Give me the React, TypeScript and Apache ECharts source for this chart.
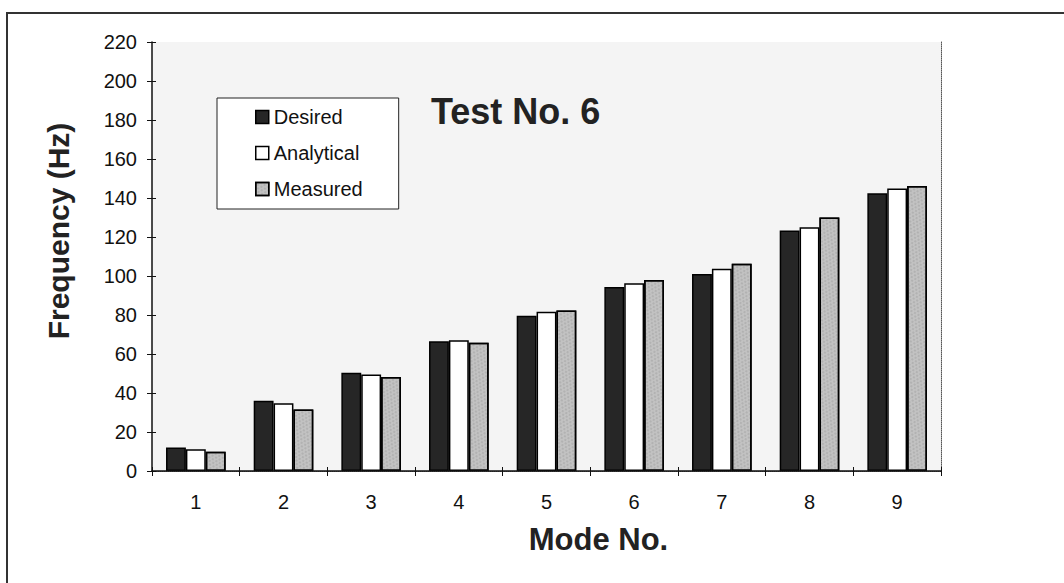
import React, { useEffect, useRef } from "react";
import * as echarts from "echarts";

// Mode numbers on the category axis
const modes = ["1", "2", "3", "4", "5", "6", "7", "8", "9"];

// Natural frequencies (Hz) per mode
const desired = [12, 36, 50.4, 66.6, 79.6, 94.3, 101, 123.3, 142.5];
const analytical = [11.1, 34.7, 49.5, 67, 81.7, 96.3, 103.7, 125, 144.9];
const measured = [9.9, 31.6, 48.2, 65.8, 82.3, 98, 106.3, 130, 146.2];

const seriesNames = ["Desired", "Analytical", "Measured"];

const FONT = '"Liberation Sans", Arial, Helvetica, sans-serif';

// speckled texture on the measured bars
const measuredDecal = {
  symbol: "rect",
  symbolSize: 0.6,
  color: "rgba(85,85,85,0.5)",
  dashArrayX: [
    [2, 2],
    [0, 2, 2, 0],
  ],
  dashArrayY: [2, 1],
  rotation: 0.5,
};

const styles = [
  { color: "#262626", borderColor: "#000", borderWidth: 1.5, decal: "none" },
  { color: "#ffffff", borderColor: "#000", borderWidth: 1.5, decal: "none" },
  { color: "#c2c2c2", borderColor: "#000", borderWidth: 1.5, decal: measuredDecal },
];

export default function App() {
  const ref = useRef<HTMLDivElement>(null);

  useEffect(() => {
    if (!ref.current) return;
    const chart = echarts.init(ref.current, undefined, { renderer: "svg" });

    const values = [desired, analytical, measured];

    chart.setOption({
      animation: false,
      backgroundColor: "#ffffff",
      textStyle: { fontFamily: FONT },
      grid: {
        left: 152,
        right: 123,
        top: 42,
        bottom: 112,
        show: true,
        backgroundColor: "#f4f4f4",
        borderWidth: 0,
      },
      legend: {
        orient: "vertical",
        left: 217,
        top: 98,
        padding: [9, 36, 10, 38],
        backgroundColor: "#ffffff",
        borderColor: "#222",
        borderWidth: 1,
        itemWidth: 13,
        itemHeight: 13,
        itemGap: 16,
        icon: "rect",
        textStyle: { fontFamily: FONT, fontSize: 20, color: "#111" },
        data: seriesNames.map((name, i) => ({ name, itemStyle: styles[i] })),
      },
      xAxis: [
        {
          type: "category",
          data: modes,
          position: "bottom",
          axisLine: { lineStyle: { color: "#111", width: 1.5 } },
          axisTick: { show: true, length: 5, lineStyle: { color: "#111" } },
          axisLabel: { fontFamily: FONT, fontSize: 20, color: "#111", margin: 21 },
          splitLine: { show: false },
          z: 5,
        },
        {
          // inward half of the crossing ticks
          type: "category",
          data: modes,
          position: "bottom",
          offset: 0,
          axisLine: { show: false },
          axisTick: { show: true, inside: true, length: 4, lineStyle: { color: "#111" } },
          axisLabel: { show: false },
          splitLine: { show: false },
        },
        {
          // dotted top frame
          type: "category",
          data: modes,
          position: "top",
          axisLine: { lineStyle: { color: "#555", width: 1, type: "dotted" } },
          axisTick: { show: false },
          axisLabel: { show: false },
        },
      ],
      yAxis: [
        {
          type: "value",
          min: 0,
          max: 220,
          interval: 20,
          position: "left",
          axisLine: { show: true, lineStyle: { color: "#111", width: 1.5 } },
          axisTick: { show: true, length: 5, lineStyle: { color: "#111" } },
          axisLabel: { fontFamily: FONT, fontSize: 20, color: "#111", margin: 15 },
          splitLine: { show: false },
          z: 5,
        },
        {
          type: "value",
          min: 0,
          max: 220,
          interval: 20,
          position: "left",
          offset: 0,
          axisLine: { show: false },
          axisTick: { show: true, inside: true, length: 4, lineStyle: { color: "#111" } },
          axisLabel: { show: false },
          splitLine: { show: false },
        },
        {
          // dotted right frame
          type: "value",
          min: 0,
          max: 220,
          interval: 20,
          position: "right",
          axisLine: { show: true, lineStyle: { color: "#555", width: 1, type: "dotted" } },
          axisTick: { show: false },
          axisLabel: { show: false },
          splitLine: { show: false },
        },
      ],
      series: seriesNames.map((name, i) => ({
        name,
        type: "bar",
        xAxisIndex: 0,
        yAxisIndex: 0,
        data: values[i],
        barGap: "0%",
        barCategoryGap: "32%",
        itemStyle: styles[i],
      })),
      graphic: [
        {
          type: "line",
          shape: { x1: 7, y1: 13, x2: 7, y2: 583 },
          style: { stroke: "#333", lineWidth: 2 },
        },
        {
          type: "line",
          shape: { x1: 6, y1: 13, x2: 1064, y2: 13 },
          style: { stroke: "#333", lineWidth: 2 },
        },
        {
          type: "text",
          x: 431,
          y: 111.5,
          style: {
            text: "Test No. 6",
            fontFamily: FONT,
            fontSize: 36,
            fontWeight: "bold",
            fill: "#222",
            align: "left",
            verticalAlign: "middle",
          },
        },
        {
          type: "text",
          x: 58,
          y: 231,
          rotation: Math.PI / 2,
          style: {
            text: "Frequency (Hz)",
            fontFamily: FONT,
            fontSize: 30,
            fontWeight: "bold",
            fill: "#222",
            align: "center",
            verticalAlign: "middle",
          },
        },
        {
          type: "text",
          x: 598.5,
          y: 539,
          style: {
            text: "Mode No.",
            fontFamily: FONT,
            fontSize: 31,
            fontWeight: "bold",
            fill: "#222",
            align: "center",
            verticalAlign: "middle",
          },
        },
      ],
    });

    return () => chart.dispose();
  }, []);

  return (
    <div
      ref={ref}
      style={{ position: "fixed", left: 0, top: 0, width: 1064, height: 583 }}
    />
  );
}
